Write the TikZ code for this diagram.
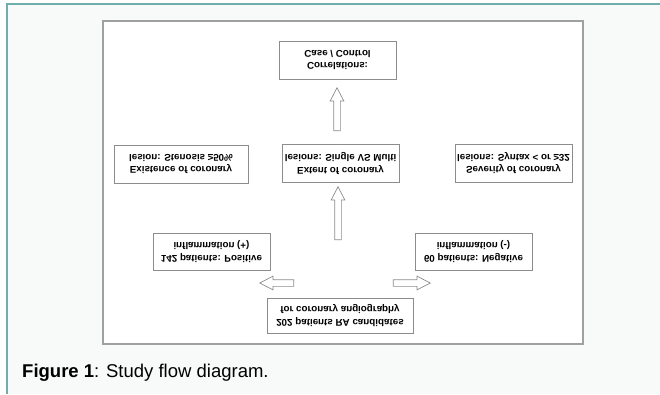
\documentclass[tikz,border=0pt]{standalone}
\usepackage{fontspec}
\setmainfont{Liberation Sans}
\usetikzlibrary{shapes.arrows}
\definecolor{frameteal}{HTML}{6FAEAC}
\definecolor{pagebg}{HTML}{F8FAFA}
\definecolor{boxgrey}{HTML}{8C8C8C}
\definecolor{framegrey}{HTML}{A0A0A0}
\tikzset{
  flowbox/.style={draw=boxgrey,fill=white,line width=0.9pt,minimum width=117pt,minimum height=38pt,
    inner sep=1pt,align=center,font=\fontsize{9.8}{12.5}\selectfont\bfseries,yscale=-1},
  blockarrow/.style={single arrow,draw=boxgrey,fill=white,line width=0.7pt,
    inner sep=3pt,single arrow head extend=3.5pt,single arrow head indent=0pt,
    single arrow tip angle=55}
}
\begin{document}
\begin{tikzpicture}[x=1pt,y=-1pt]
	\useasboundingbox (0,0) rectangle (660,394);
	% page and frame
	\fill[white] (0,0) rectangle (660,394);
	\fill[pagebg] (6,3) rectangle (660,394);
	\draw[frameteal,line width=2pt] (6.5,394) -- (6.5,3.5) -- (660,3.5);
	\draw[framegrey,line width=1.5pt,fill=white] (103,21) rectangle (583,344);
	% boxes
	\node[flowbox](corr) at (337.5,60){Correlations:\\Case / Control};
	\node[flowbox,minimum width=134pt](exist) at (181,164){Existence of coronary\\lesion: Stenosis ≥50\%};
	\node[flowbox](extent) at (340.5,163.5){Extent of coronary\\lesions: Single VS Multi};
	\node[flowbox](sever) at (513.5,163){Severity of coronary\\lesions: Syntax < or ≥32};
	\node[flowbox,minimum height=37pt](pos) at (211.5,251.5){142 patients: Positive\\inflammation (+)};
	\node[flowbox,minimum height=37pt](neg) at (473.5,251.5){60 patients: Negative\\inflammation (-)};
	\node[flowbox,minimum width=146pt,minimum height=35pt](total) at (340,315.5){202 patients RA candidates\\for coronary angiography};
	% block arrows
	\node[blockarrow,minimum height=43pt,shape border rotate=90](up1) at (337,112.5){};
	\node[blockarrow,minimum height=53pt,shape border rotate=90](up2) at (338,216.5){};
	\node[blockarrow,minimum height=34pt,shape border rotate=180](left) at (280,283){};
	\node[blockarrow,minimum height=37pt](right) at (408.5,283){};
	% caption
	\node[anchor=base west,inner sep=0pt,font=\fontsize{18.5}{20}\selectfont](cap) at (22,377){\textbf{Figure 1}: Study flow diagram.};
\end{tikzpicture}
\end{document}
